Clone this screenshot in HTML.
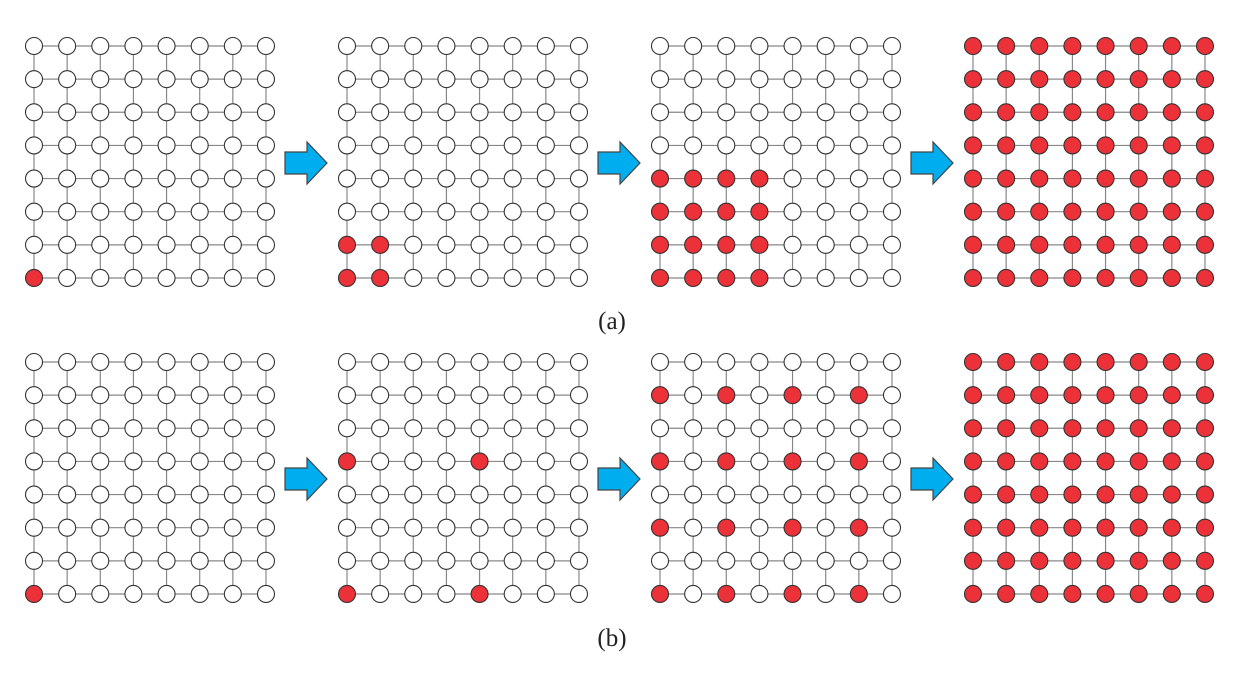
<!DOCTYPE html>
<html><head><meta charset="utf-8"><style>body{margin:0;background:#fff}</style></head>
<body>
<svg width="1245" height="674" xmlns="http://www.w3.org/2000/svg" id="s">
<text x="612" y="329" font-family="Liberation Serif, serif" font-size="25" text-anchor="middle" fill="#222">(a)</text>
<text x="612" y="646" font-family="Liberation Serif, serif" font-size="25" text-anchor="middle" fill="#222">(b)</text>
</svg>
<script>
const s=document.getElementById('s');const NS='http://www.w3.org/2000/svg';
function el(t,a){const e=document.createElementNS(NS,t);for(const k in a)e.setAttribute(k,a[k]);s.appendChild(e);}
const sp=33.14;
const pats=[
 [(r,c)=>r==7&&c==0,(r,c)=>r>=6&&c<=1,(r,c)=>r>=4&&c<=3,()=>true],
 [(r,c)=>r==7&&c==0,(r,c)=>(r==3||r==7)&&(c==0||c==4),(r,c)=>r%2==1&&c%2==0,()=>true]
];
for(let g=0;g<2;g++){const y0=g?362:46;
 for(let p=0;p<4;p++){const x0=34+313*p;
  for(let i=0;i<8;i++){
   el('line',{x1:x0,y1:y0+i*sp,x2:x0+7*sp,y2:y0+i*sp,stroke:'#888','stroke-width':1.2});
   el('line',{x1:x0+i*sp,y1:y0,x2:x0+i*sp,y2:y0+7*sp,stroke:'#888','stroke-width':1.2});
  }
  for(let r=0;r<8;r++)for(let c=0;c<8;c++)
   el('circle',{cx:x0+c*sp,cy:y0+r*sp,r:8.5,fill:pats[g][p](r,c)?'#ec3238':'#fff',stroke:'#333','stroke-width':1.1});
  if(p<3){const ax=285+313*p, ay=y0+117;
   el('polygon',{points:`${ax},${ay-11} ${ax+22},${ay-11} ${ax+22},${ay-21} ${ax+42},${ay} ${ax+22},${ay+21} ${ax+22},${ay+11} ${ax},${ay+11}`,fill:'#00aeef',stroke:'#444','stroke-width':1.2});}
 }}
</script>
</body></html>
